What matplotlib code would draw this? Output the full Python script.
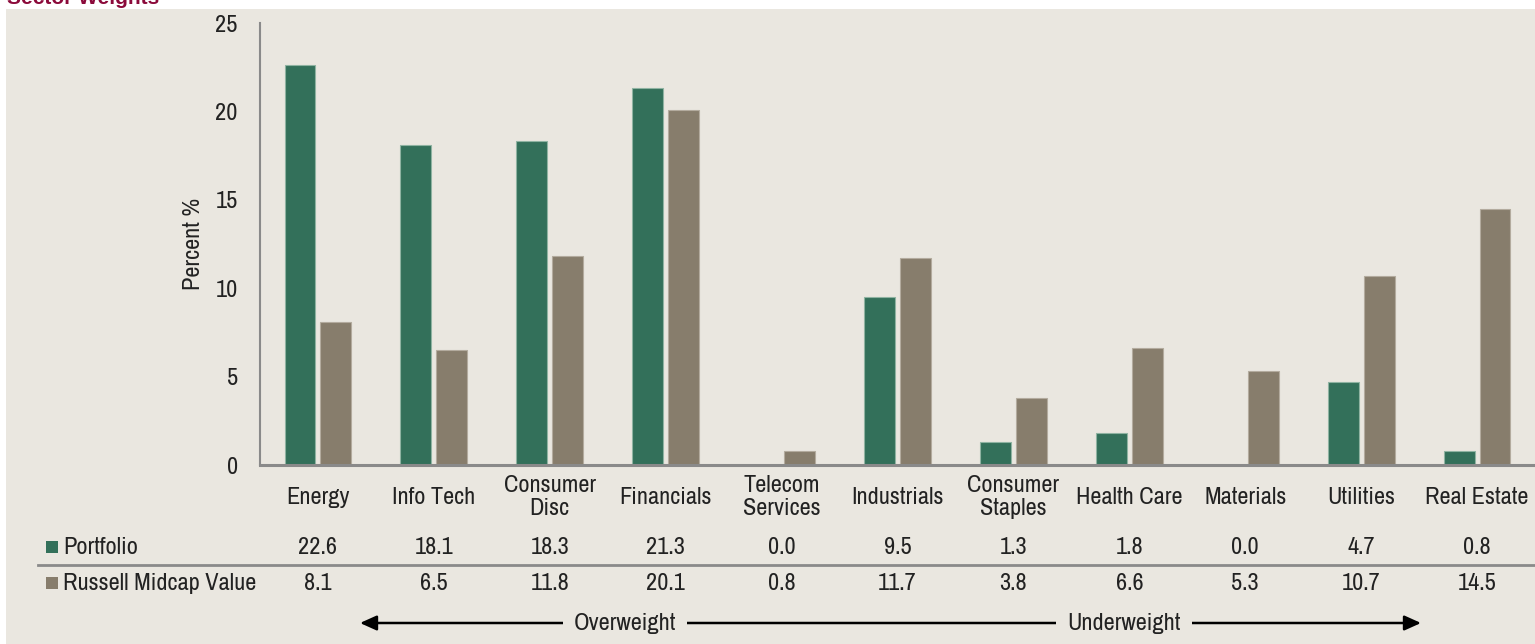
import matplotlib.pyplot as plt
import matplotlib.transforms as mtransforms
from matplotlib import font_manager
from matplotlib.patches import Rectangle
import numpy as np

# Data
sectors = ['Energy', 'Info Tech', 'Consumer\nDisc', 'Financials', 'Telecom\nServices',
           'Industrials', 'Consumer\nStaples', 'Health Care', 'Materials', 'Utilities',
           'Real Estate']
portfolio = [22.6, 18.1, 18.3, 21.3, 0.0, 9.5, 1.3, 1.8, 0.0, 4.7, 0.8]
russell = [8.1, 6.5, 11.8, 20.1, 0.8, 11.7, 3.8, 6.6, 5.3, 10.7, 14.5]
series_names = ['Portfolio', 'Russell Midcap Value']
yticks = [0, 5, 10, 15, 20, 25]

GREEN = '#33705a'
TAUPE = '#877d6c'
BG = '#eae7e0'
TXT = '#222222'
W, H = 1535, 644

# pick a narrow font if one is installed, else plain Liberation Sans a bit smaller
names = sorted({f.name for f in font_manager.fontManager.ttflist})
narrow = [n for n in names if 'Narrow' in n or 'Condensed' in n]
if narrow:
    font, fs = narrow[0], 17.5
else:
    font, fs = 'Liberation Sans', 15
plt.rcParams['font.family'] = [font, 'DejaVu Sans']

fig = plt.figure(figsize=(W / 100, H / 100), dpi=100, facecolor='white')
fig.add_artist(Rectangle((6 / W, 0), 1, 1 - 9 / H, transform=fig.transFigure,
                         facecolor=BG, edgecolor='none', zorder=0))
fig.text(7 / W, 1 - 4 / H, 'Sector Weights', color='#8b0a3a', fontsize=15,
         family='Liberation Sans', fontweight='bold', va='baseline', ha='left')

ax = fig.add_axes([260 / W, 1 - 465 / H, (W - 260) / W, (465 - 23) / H])
ax.set_facecolor('none')

x = np.arange(len(sectors))
bw = 0.267
off = 0.155
ax.bar(x - off, portfolio, bw, color=GREEN, edgecolor='#8fb3a2', linewidth=0.8, zorder=2)
ax.bar(x + off, russell, bw, color=TAUPE, edgecolor='#b3ab9e', linewidth=0.8, zorder=2)

ax.set_xlim(-0.5, len(sectors) - 0.5)
ax.set_ylim(0, 25)
ax.set_yticks(yticks)
ax.set_yticklabels([str(t) for t in yticks], fontsize=fs, color=TXT)
ax.tick_params(axis='y', length=0, pad=16)
ax.set_xticks([])
for s in ['top', 'right']:
    ax.spines[s].set_visible(False)
ax.spines['left'].set_color('#8a8a8a')
ax.spines['left'].set_linewidth(1.5)
ax.spines['bottom'].set_color('#8a8a8a')
ax.spines['bottom'].set_linewidth(2.2)
ax.set_ylabel('Percent %', fontsize=fs, color=TXT, labelpad=8)

# category labels and table rows below the axis
tr = mtransforms.blended_transform_factory(ax.transData, fig.transFigure)
for i, name in enumerate(sectors):
    ax.text(i, 1 - 497 / H, name, transform=tr, ha='center', va='center',
            fontsize=fs, color=TXT, linespacing=1.15, clip_on=False)
    ax.text(i, 1 - 547 / H, f'{portfolio[i]:.1f}', transform=tr, ha='center',
            va='center', fontsize=fs, color=TXT, clip_on=False)
    ax.text(i, 1 - 583 / H, f'{russell[i]:.1f}', transform=tr, ha='center',
            va='center', fontsize=fs, color=TXT, clip_on=False)

for name, col, yy in [(series_names[0], GREEN, 547), (series_names[1], TAUPE, 583)]:
    fig.add_artist(Rectangle((46 / W, 1 - (yy + 6) / H), 12 / W, 12 / H,
                             transform=fig.transFigure, facecolor=col, edgecolor='none'))
    fig.text(63 / W, 1 - yy / H, name, fontsize=fs, color=TXT, va='center', ha='left')

fig.add_artist(plt.Line2D([38 / W, 1], [1 - 565 / H, 1 - 565 / H], transform=fig.transFigure,
                          color='#8a8a8a', linewidth=2))

# overweight / underweight double arrow, labels sit on top with a background box
ya = 1 - 623 / H
ax.annotate('', xy=(360 / W, ya), xytext=(1421 / W, ya), xycoords='figure fraction',
            textcoords='figure fraction',
            arrowprops=dict(arrowstyle='<|-|>,head_length=1.0,head_width=0.45',
                            color='black', lw=1.8, shrinkA=0, shrinkB=0))
box = dict(facecolor=BG, edgecolor='none', pad=8)
fig.text(625 / W, ya, 'Overweight', fontsize=fs, color=TXT, ha='center', va='center',
         bbox=box, zorder=5)
fig.text(1124 / W, ya, 'Underweight', fontsize=fs, color=TXT, ha='center', va='center',
         bbox=box, zorder=5)

fig.savefig('out.png', dpi=100, facecolor='white')
